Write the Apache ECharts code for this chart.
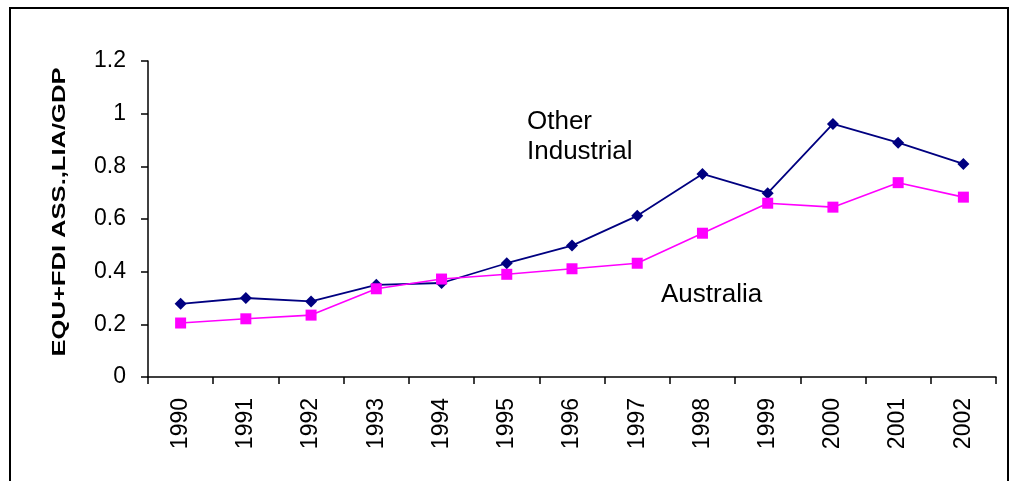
<!DOCTYPE html>
<html>
<head>
<meta charset="utf-8">
<script src="https://cdn.jsdelivr.net/npm/echarts@6/dist/echarts.min.js"></script>
<style>
html, body { margin: 0; padding: 0; background: #fff; }
#chart { width: 1011px; height: 481px; }
</style>
</head>
<body>
<div id="chart"></div>
<script>
// Years on the category axis
const years = ['1990','1991','1992','1993','1994','1995','1996','1997','1998','1999','2000','2001','2002'];
// Equity + FDI assets and liabilities as a share of GDP
const otherIndustrial = [0.278, 0.300, 0.287, 0.350, 0.357, 0.432, 0.499, 0.612, 0.771, 0.698, 0.961, 0.890, 0.809];
const australia = [0.205, 0.221, 0.235, 0.335, 0.372, 0.390, 0.411, 0.432, 0.546, 0.660, 0.645, 0.738, 0.683];
const yTicks = [0, 0.2, 0.4, 0.6, 0.8, 1, 1.2];
const yTitle = 'EQU+FDI ASS.,LIA/GDP';

const chart = echarts.init(document.getElementById('chart'));
const font = 'Liberation Sans, Arial, sans-serif';

chart.setOption({
  animation: false,
  backgroundColor: '#fff',
  grid: { left: 148, right: 15, top: 61, bottom: 104 },
  xAxis: {
    type: 'category',
    data: years,
    boundaryGap: true,
    axisLine: { lineStyle: { color: '#000', width: 1.5 } },
    axisTick: { show: true, length: 7, lineStyle: { color: '#000', width: 1.5 } },
    axisLabel: { rotate: 90, color: '#000', fontFamily: font, fontSize: 23, margin: 21 },
    splitLine: { show: false }
  },
  yAxis: {
    type: 'value',
    min: 0, max: 1.2, interval: 0.2,
    axisLine: { show: true, lineStyle: { color: '#000', width: 1.5 } },
    axisTick: { show: true, length: 7, lineStyle: { color: '#000', width: 1.5 } },
    axisLabel: {
      color: '#000', fontFamily: font, fontSize: 23, margin: 22,
      formatter: v => {
        const t = yTicks.find(x => Math.abs(x - v) < 1e-9);
        return t === undefined ? '' : String(t);
      }
    },
    splitLine: { show: false }
  },
  series: [
    {
      name: 'Other Industrial',
      type: 'line',
      data: otherIndustrial,
      symbol: 'diamond',
      symbolSize: 12,
      lineStyle: { color: '#000080', width: 1.8 },
      itemStyle: { color: '#000080' },
      z: 3
    },
    {
      name: 'Australia',
      type: 'line',
      data: australia,
      symbol: 'rect',
      symbolSize: 11,
      lineStyle: { color: '#ff00ff', width: 1.6 },
      itemStyle: { color: '#ff00ff' },
      z: 4
    }
  ],
  graphic: [
    {
      type: 'rect',
      shape: { x: 10, y: 8, width: 998, height: 500 },
      style: { fill: 'none', stroke: '#000', lineWidth: 2 },
      silent: true
    },
    {
      // vertical axis title, widened along its reading direction
      type: 'text',
      x: 60, y: 212,
      rotation: Math.PI / 2,
      scaleX: 1.42,
      style: {
        text: yTitle, fill: '#000',
        font: 'bold 18px ' + font,
        align: 'center', verticalAlign: 'middle'
      }
    },
    {
      type: 'text', left: 527, top: 107,
      style: { text: 'Other\nIndustrial', fill: '#000', font: '26px ' + font, lineHeight: 30 }
    },
    {
      type: 'text', left: 661, top: 282,
      style: { text: 'Australia', fill: '#000', font: '26px ' + font }
    }
  ]
});
</script>
</body>
</html>
